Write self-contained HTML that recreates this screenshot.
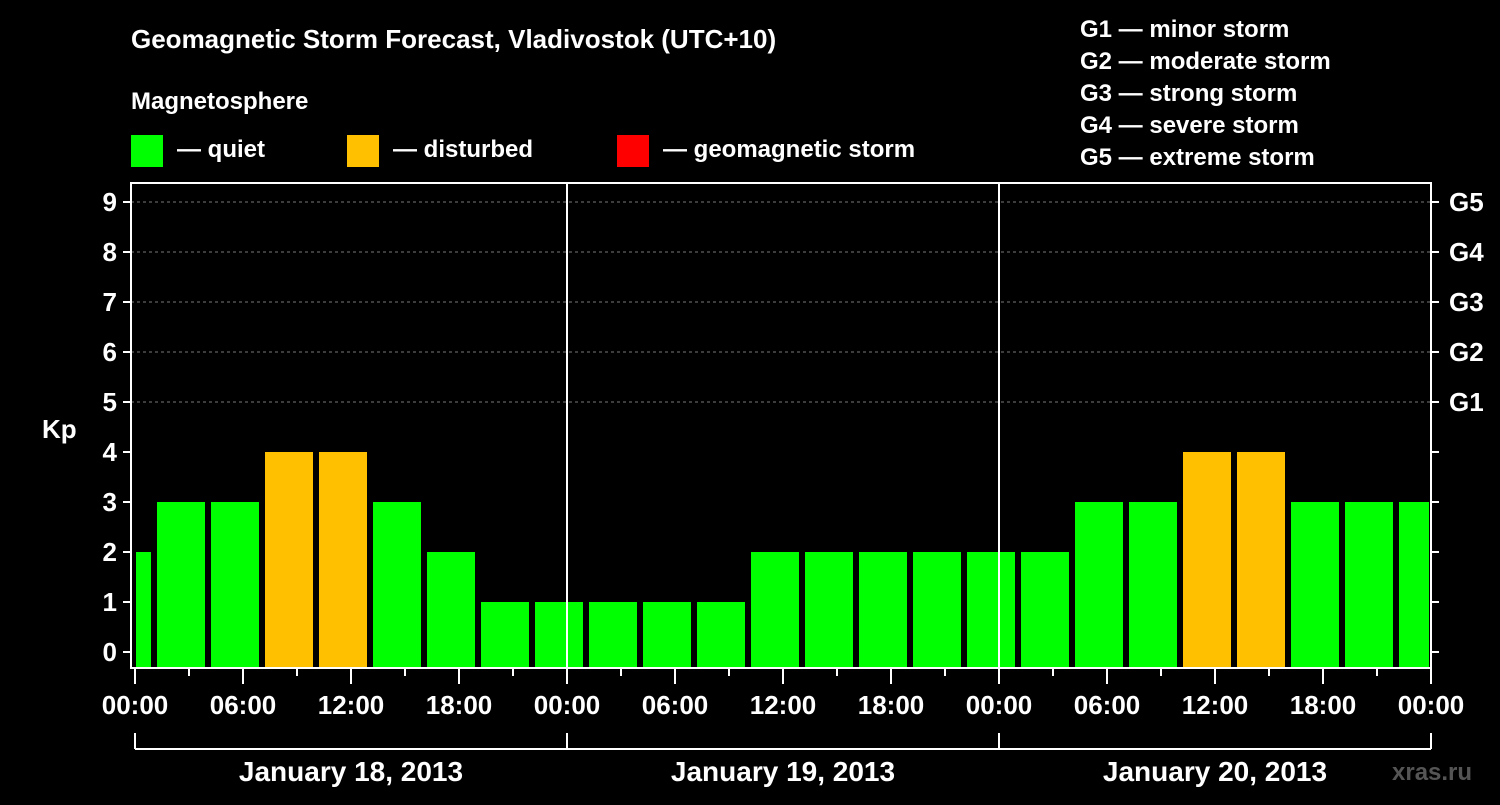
<!DOCTYPE html>
<html><head><meta charset="utf-8"><style>
body{margin:0;background:#000;width:1500px;height:800px;overflow:hidden}
svg{font-family:"Liberation Sans",sans-serif;font-weight:bold}
</style></head><body>
<svg id="c" width="1500" height="800">
<text x="131" y="48" fill="#fff" font-size="26">Geomagnetic Storm Forecast, Vladivostok (UTC+10)</text>
<text x="131" y="109" fill="#fff" font-size="24">Magnetosphere</text>
<rect x="131" y="135" width="32" height="32" fill="#00ff00"/>
<text x="177" y="157" fill="#fff" font-size="24">— quiet</text>
<rect x="347" y="135" width="32" height="32" fill="#ffc000"/>
<text x="393" y="157" fill="#fff" font-size="24">— disturbed</text>
<rect x="617" y="135" width="32" height="32" fill="#ff0000"/>
<text x="663" y="157" fill="#fff" font-size="24">— geomagnetic storm</text>
<g fill="#fff" font-size="24">
<text x="1080" y="37">G1 — minor storm</text>
<text x="1080" y="69">G2 — moderate storm</text>
<text x="1080" y="101">G3 — strong storm</text>
<text x="1080" y="133">G4 — severe storm</text>
<text x="1080" y="165">G5 — extreme storm</text>
</g>
<text x="42" y="438" fill="#fff" font-size="26">Kp</text>
<text x="1392" y="780" fill="#555" font-size="24">xras.ru</text>
<g id="plot"></g>
</svg>
<script>
const kpValues=[2,3,3,4,4,3,2,1,1,1,1,1,2,2,2,2,2,2,3,3,4,4,3,3,3];
const binStartHours=[-2,1,4,7,10,13,16,19,22,25,28,31,34,37,40,43,46,49,52,55,58,61,64,67,70];
const yTicks=[0,1,2,3,4,5,6,7,8,9];
const gLabels=["G1","G2","G3","G4","G5"];
const timeLabels=["00:00","06:00","12:00","18:00","00:00","06:00","12:00","18:00","00:00","06:00","12:00","18:00","00:00"];
const dayLabels=["January 18, 2013","January 19, 2013","January 20, 2013"];
const X0=135,PX=18,L=131,R=1431,T=183,B=668;
const x=h=>X0+h*PX, y=v=>652-50*v;
const g=document.getElementById('plot');
const NS="http://www.w3.org/2000/svg";
function mk(t,a){const e=document.createElementNS(NS,t);for(const k in a)e.setAttribute(k,a[k]);g.appendChild(e);return e;}
yTicks.forEach(v=>{if(v>=5){const l=mk('line',{x1:L,x2:R,y1:y(v),y2:y(v),stroke:'#777','stroke-dasharray':'3,3'});

}
mk('line',{x1:L-8,x2:L,y1:y(v),y2:y(v),stroke:'#fff','stroke-width':2});
mk('line',{x1:R,x2:R+8,y1:y(v),y2:y(v),stroke:'#fff','stroke-width':2});
const t=mk('text',{x:L-14,y:y(v)+9,fill:'#fff','font-size':26,'text-anchor':'end'});t.textContent=v;

});
gLabels.forEach((s,i)=>{const t=mk('text',{x:R+18,y:y(5+i)+9,fill:'#fff','font-size':26});t.textContent=s;

});
kpValues.forEach((v,i)=>{let a=x(binStartHours[i])+4,b=x(binStartHours[i]+3)-2;a=Math.max(a,L+5);b=Math.min(b,R-2);
const r=mk('rect',{x:a,y:y(v),width:b-a,height:B-y(v),fill:v>=5?'#ff0000':v>=4?'#ffc000':'#00ff00'});

});
[1,2].forEach(d=>mk('line',{x1:x(24*d),x2:x(24*d),y1:T,y2:B,stroke:'#fff','stroke-width':2}));
const f=mk('rect',{x:L,y:T,width:R-L,height:B-T,fill:'none',stroke:'#fff','stroke-width':2});


for(let h=0;h<=72;h+=3){const maj=h%6==0;mk('line',{x1:x(h),x2:x(h),y1:B,y2:B+(maj?16:8),stroke:'#fff','stroke-width':2});}
timeLabels.forEach((s,i)=>{const t=mk('text',{x:x(i*6),y:714,fill:'#fff','font-size':26,'text-anchor':'middle'});t.textContent=s;

});
mk('line',{x1:x(0),x2:x(72),y1:749,y2:749,stroke:'#fff','stroke-width':2});
[0,1,2,3].forEach(d=>mk('line',{x1:x(24*d),x2:x(24*d),y1:733,y2:749,stroke:'#fff','stroke-width':2}));
dayLabels.forEach((s,i)=>{const t=mk('text',{x:x(24*i+12),y:781,fill:'#fff','font-size':28,'text-anchor':'middle'});t.textContent=s;

});
</script>
</body></html>
